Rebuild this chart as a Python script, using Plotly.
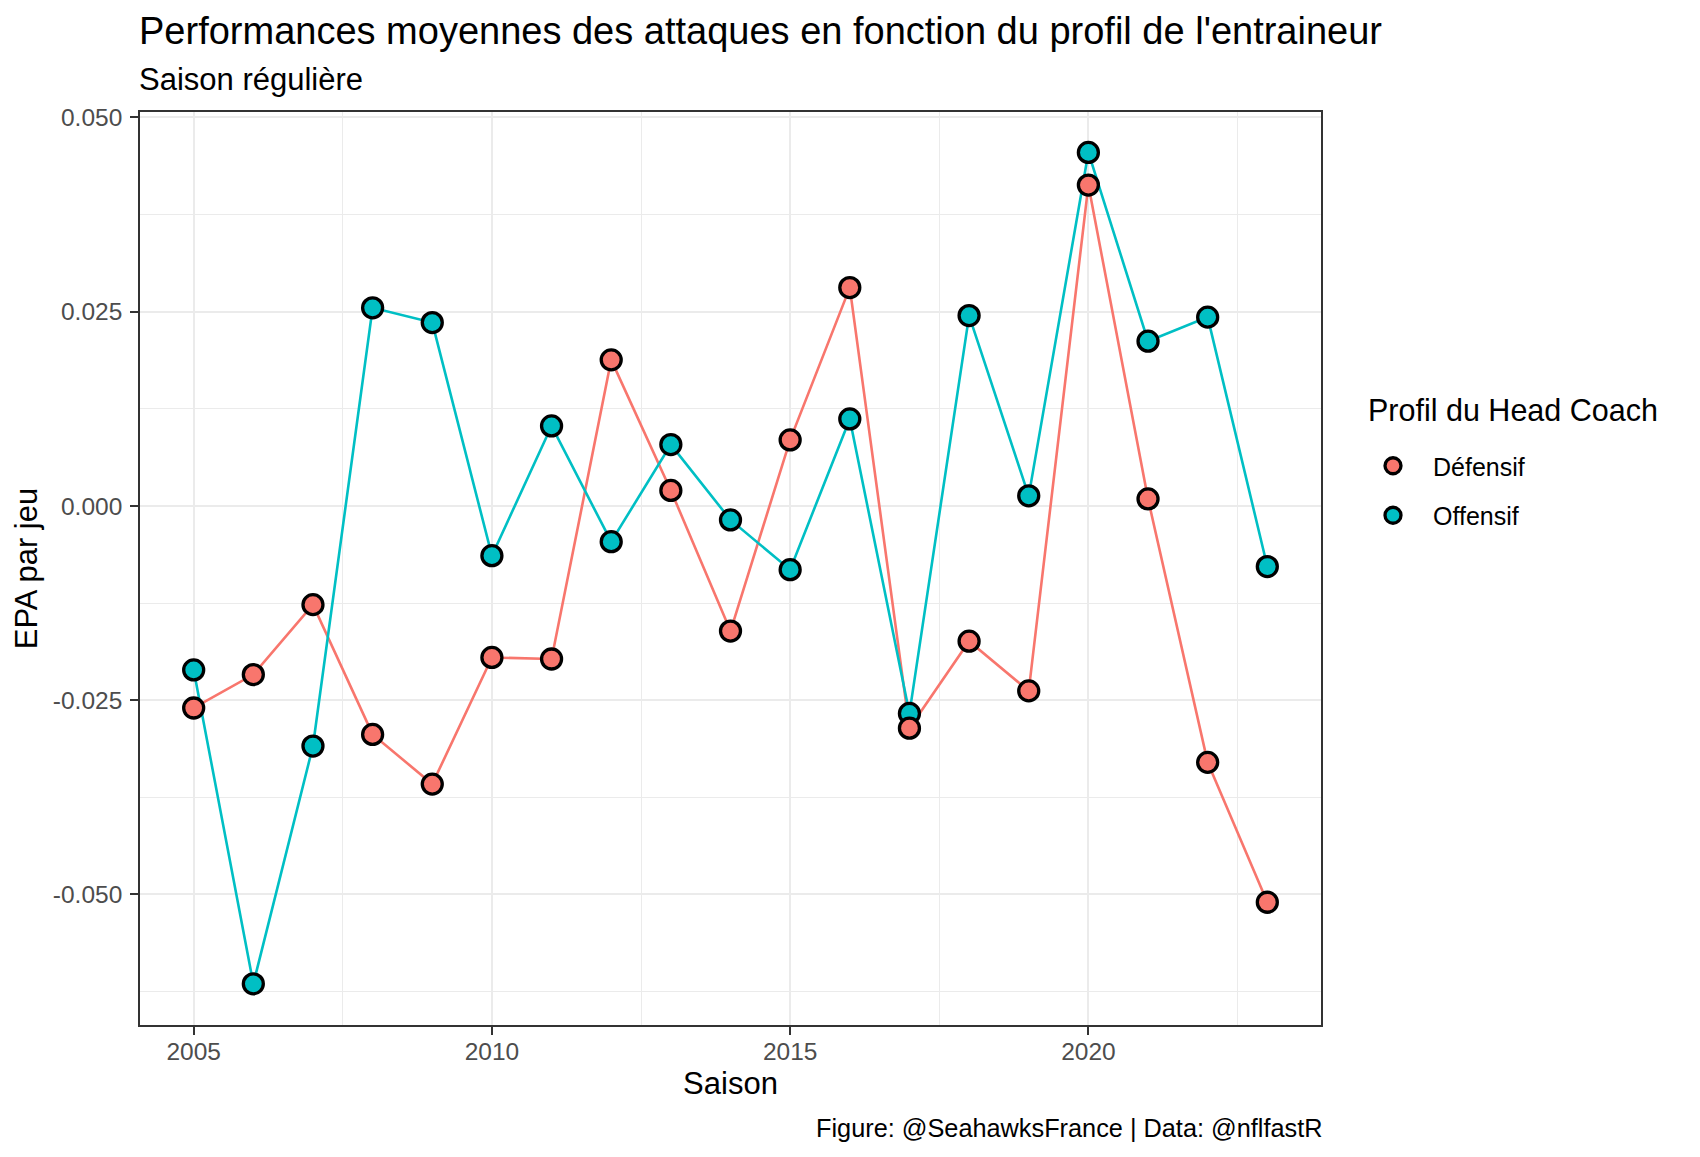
import plotly.graph_objects as go

# ---- data ----
seasons = [2005, 2006, 2007, 2008, 2009, 2010, 2011, 2012, 2013, 2014,
           2015, 2016, 2017, 2018, 2019, 2020, 2021, 2022, 2023]
defensif = [-0.0260, -0.0217, -0.0127, -0.0294, -0.0358, -0.0195, -0.0197, 0.0188, 0.0020, -0.0161,
            0.0085, 0.0281, -0.0286, -0.0174, -0.0238, 0.0413, 0.0009, -0.0330, -0.0510]
offensif = [-0.0211, -0.0615, -0.0309, 0.0255, 0.0236, -0.0064, 0.0103, -0.0046, 0.0079, -0.0018,
            -0.0082, 0.0112, -0.0267, 0.0245, 0.0013, 0.0455, 0.0212, 0.0243, -0.0078]
series_names = ["Défensif", "Offensif"]
series_colors = ["#F8766D", "#00BFC4"]
x_tickvals = [2005, 2010, 2015, 2020]
y_tickvals = [-0.050, -0.025, 0.000, 0.025, 0.050]
y_ticktext = ["-0.050", "-0.025", "0.000", "0.025", "0.050"]

title_text = "Performances moyennes des attaques en fonction du profil de l'entraineur"
subtitle_text = "Saison régulière"
caption_text = "Figure: @SeahawksFrance | Data: @nflfastR"
legend_title = "Profil du Head Coach"

FONT = "Liberation Sans, Arial, sans-serif"
OFF = 8  # page body margin
W, H = 1700 - OFF, 1157 - OFF
# panel edges in screen pixels
L, R, T, B = 140, 1321, 112, 1025

fig = go.Figure()
series_vals = [defensif, offensif]

# lines (drawn first, under points)
for name, vals, col in zip(series_names, series_vals, series_colors):
    fig.add_trace(go.Scatter(x=seasons, y=vals, mode="lines",
                             line=dict(color=col, width=2.6),
                             showlegend=False, hoverinfo="skip"))
# points (Offensif first so Défensif sits on top)
for i in [1, 0]:
    fig.add_trace(go.Scatter(x=seasons, y=series_vals[i], mode="markers", name=series_names[i],
                             legendgroup=series_names[i], legendrank=i + 1,
                             marker=dict(color=series_colors[i], size=20,
                                         line=dict(color="black", width=3.3))))

def py(ypix):
    return (B - ypix) / (B - T)

def px(xpix):
    return (xpix - L) / (R - L)

fig.update_layout(
    width=W, height=H,
    margin=dict(l=L - OFF, r=W - (R - OFF), t=T - OFF, b=H - (B - OFF), pad=0),
    paper_bgcolor="white", plot_bgcolor="white",
    font=dict(family=FONT, color="black"),
    showlegend=True,
    legend=dict(
        font=dict(size=25, color="black"),
        x=px(1353), xanchor="left",
        y=py(443), yanchor="top",
        traceorder="grouped", tracegroupgap=14,
        itemsizing="trace", itemwidth=70, bgcolor="rgba(0,0,0,0)",
    ),
    xaxis=dict(
        range=[2004.1, 2023.9], tickvals=x_tickvals, ticktext=[str(v) for v in x_tickvals],
        ticks="outside", ticklen=8, tickwidth=1.6, tickcolor="#333333",
        tickfont=dict(size=24.5, color="#4D4D4D"), ticklabelstandoff=-4,
        showgrid=True, gridcolor="#EBEBEB", gridwidth=2,
        minor=dict(tick0=2002.5, dtick=2.5, showgrid=True, gridcolor="#EBEBEB", gridwidth=1.2),
        showline=True, linecolor="#333333", linewidth=1.6, mirror=True, zeroline=False,
        title=dict(text="Saison", font=dict(size=31, color="black"), standoff=8),
    ),
    yaxis=dict(
        range=[-0.0668, 0.0507], tickvals=y_tickvals, ticktext=y_ticktext,
        ticks="outside", ticklen=8, tickwidth=1.6, tickcolor="#333333",
        tickfont=dict(size=24.5, color="#4D4D4D"), ticklabelstandoff=3,
        showgrid=True, gridcolor="#EBEBEB", gridwidth=2,
        minor=dict(tick0=-0.0625, dtick=0.0125, showgrid=True, gridcolor="#EBEBEB", gridwidth=1.2),
        showline=True, linecolor="#333333", linewidth=1.6, mirror=True, zeroline=False,
        title=dict(text="EPA par jeu", font=dict(size=31, color="black"), standoff=6),
    ),
    annotations=[
        dict(text=title_text, x=0, xref="paper", xanchor="left", xshift=-3, y=py(31), yref="paper",
             yanchor="middle", showarrow=False, font=dict(size=38, color="black")),
        dict(text=subtitle_text, x=0, xref="paper", xanchor="left", xshift=-3, y=py(79), yref="paper",
             yanchor="middle", showarrow=False, font=dict(size=31, color="black")),
        dict(text=caption_text, x=1, xref="paper", xanchor="right", xshift=3, y=py(1128), yref="paper",
             yanchor="middle", showarrow=False, font=dict(size=25.3, color="black")),
        dict(text=legend_title, x=px(1366), xref="paper", xanchor="left", y=py(410), yref="paper",
             yanchor="middle", showarrow=False, font=dict(size=30.5, color="black")),
    ],
)

fig.write_html("out.html")
